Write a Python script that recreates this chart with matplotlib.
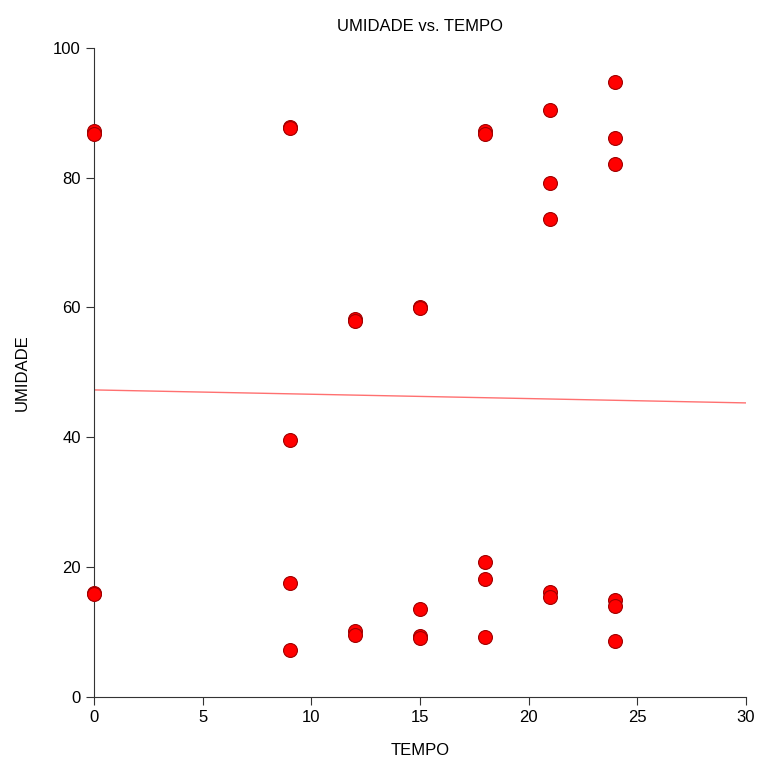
import numpy as np
import matplotlib.pyplot as plt

plt.rcParams['font.family'] = ['Liberation Sans', 'DejaVu Sans']

# TEMPO vs UMIDADE observations
tempo = [0, 0, 0, 0,
         9, 9, 9, 9, 9,
         12, 12, 12, 12,
         15, 15, 15, 15, 15,
         18, 18, 18, 18, 18,
         21, 21, 21, 21, 21,
         24, 24, 24, 24, 24, 24]
umidade = [87.2, 86.7, 16.0, 15.9,
           87.8, 87.6, 39.6, 17.6, 7.2,
           58.2, 57.9, 10.2, 9.6,
           60.1, 59.9, 13.6, 9.4, 9.1,
           87.2, 86.7, 20.8, 18.2, 9.2,
           90.4, 79.2, 73.6, 16.2, 15.4,
           94.8, 86.1, 82.1, 14.9, 14.0, 8.6]

# fitted line endpoints
fit_x = [0, 30]
fit_y = [47.3, 45.3]

fig = plt.figure(figsize=(7.58, 7.62), dpi=100)
ax = fig.add_axes([0.124, 0.0853, 0.86, 0.852])

ax.plot(fit_x, fit_y, color='#ff7070', linewidth=1.0, zorder=2)
ax.scatter(tempo, umidade, s=100, color='#ff0000', edgecolors='#a00000',
           linewidths=0.8, zorder=3, clip_on=False)

ax.set_xlim(0, 30)
ax.set_ylim(0, 100)
ax.set_xticks([0, 5, 10, 15, 20, 25, 30])
ax.set_yticks([0, 20, 40, 60, 80, 100])
ax.spines['top'].set_visible(False)
ax.spines['right'].set_visible(False)
ax.spines['left'].set_color('#333333')
ax.spines['bottom'].set_color('#333333')
ax.tick_params(direction='out', length=6, labelsize=12, color='#333333')

ax.set_title('UMIDADE vs. TEMPO', fontsize=12, pad=12)
ax.set_xlabel('TEMPO', fontsize=12, labelpad=13)
ax.set_ylabel('UMIDADE', fontsize=12, labelpad=17)

fig.savefig('out.png', dpi=100)
